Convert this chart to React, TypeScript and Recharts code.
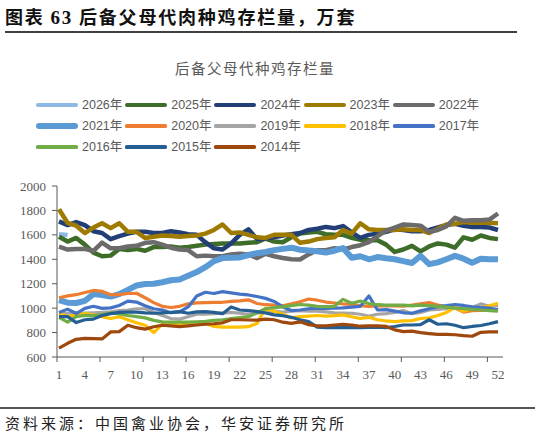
import { LineChart, Line, XAxis, YAxis } from "recharts";

// weeks of the year (category axis)
const weeks = [
  1, 2, 3, 4, 5, 6, 7, 8, 9, 10, 11, 12, 13, 14, 15, 16, 17, 18, 19, 20, 21, 22, 23, 24, 25, 26,
  27, 28, 29, 30, 31, 32, 33, 34, 35, 36, 37, 38, 39, 40, 41, 42, 43, 44, 45, 46, 47, 48, 49, 50, 51, 52,
];
const yTicks = [600, 800, 1000, 1200, 1400, 1600, 1800, 2000];

// 后备父母代种鸡存栏量, 万套
const y2026 = [1605, 1598];
const y2025 = [
  1585, 1545, 1575, 1520, 1455, 1425, 1430, 1485, 1475, 1485, 1470, 1500, 1500, 1505, 1495, 1500, 1510, 1520,
  1525, 1530, 1530, 1530, 1535, 1540, 1570, 1545, 1540, 1580, 1610, 1620, 1625, 1605, 1600, 1600, 1575, 1560,
  1555, 1555, 1520, 1460, 1480, 1510, 1465, 1505, 1530, 1520, 1495, 1580, 1560, 1595, 1575, 1565,
];
const y2024 = [
  1710, 1680, 1705, 1680, 1630, 1615, 1565, 1590, 1610, 1625, 1625, 1615, 1615, 1630, 1620, 1605, 1600, 1540,
  1490, 1480, 1530, 1600, 1645, 1565, 1570, 1580, 1595, 1605, 1615, 1640, 1650, 1665, 1655, 1672, 1620, 1575,
  1600, 1610, 1625, 1645, 1640, 1630, 1630, 1640, 1660, 1680, 1690, 1675, 1665, 1665, 1660, 1640,
];
const y2023 = [
  1810, 1697, 1675, 1615, 1660, 1695, 1655, 1695, 1625, 1625, 1575, 1585, 1595, 1590, 1585, 1590, 1595, 1610,
  1640, 1685, 1615, 1620, 1600, 1580, 1575, 1600, 1600, 1600, 1535, 1545, 1565, 1575, 1580, 1640, 1610, 1695,
  1645, 1640, 1640, 1640, 1645, 1640, 1640, 1615, 1650, 1685, 1690, 1705, 1700, 1700, 1700, 1695,
];
const y2022 = [
  1503, 1480, 1485, 1485, 1468, 1536, 1490, 1490, 1505, 1510, 1535, 1540, 1520, 1495, 1480, 1475, 1425, 1430,
  1425, 1425, 1440, 1445, 1440, 1410, 1445, 1425, 1410, 1400, 1398, 1440, 1475, 1475, 1490, 1480, 1500, 1515,
  1540, 1590, 1635, 1660, 1685, 1680, 1675, 1625, 1640, 1670, 1740, 1715, 1720, 1720, 1725, 1775,
];
const y2021 = [
  1066, 1045, 1042, 1060, 1115, 1108, 1095, 1115, 1150, 1185, 1198, 1200, 1212, 1228, 1235, 1265, 1295, 1335,
  1385, 1410, 1412, 1415, 1435, 1450, 1460, 1475, 1485, 1495, 1478, 1472, 1465, 1455, 1470, 1492, 1412, 1425,
  1400, 1418, 1408, 1400, 1385, 1370, 1428, 1360, 1375, 1400, 1428, 1405, 1372, 1405, 1400, 1400,
];
const y2020 = [
  1085, 1100, 1110, 1128, 1145, 1138, 1110, 1110, 1120, 1122, 1085, 1045, 1015, 1005, 1015, 1035, 1043, 1045,
  1048, 1048, 1055, 1060, 1068, 1038, 1028, 1025, 1020, 1035, 1052, 1075, 1065, 1050, 1042, 1035, 1030, 1020,
  1015, 1018, 1018, 1018, 1017, 1025, 1035, 1045, 1025, 1010, 1000, 968, 980, 982, 985, 990,
];
const y2019 = [
  960, 958, 962, 960, 962, 965, 970, 980, 985, 995, 995, 965, 940, 915, 910, 930, 950, 950, 955, 960, 965, 958,
  950, 958, 970, 975, 968, 975, 980, 975, 975, 970, 962, 960, 958, 950, 935, 950, 955, 965, 980, 955, 965, 985,
  990, 995, 1000, 1002, 1005, 1035, 1015, 1020,
];
const y2018 = [
  955, 932, 945, 955, 945, 930, 915, 930, 905, 880, 860, 800, 870, 880, 870, 872, 880, 875, 850, 845, 845, 845,
  848, 875, 1000, 975, 950, 920, 930, 935, 940, 935, 938, 945, 930, 915, 925, 905, 895, 890, 895, 898, 915, 920,
  940, 965, 1005, 975, 998, 1000, 1020, 1040,
];
const y2017 = [
  965, 992, 956, 998, 1015, 998, 1002, 1022, 1058, 1050, 1020, 995, 985, 962, 970, 1010, 1100, 1130, 1120, 1135,
  1125, 1115, 1108, 1095, 1080, 1055, 1010, 980, 985, 995, 1000, 998, 1000, 1002, 1008, 1015, 1100, 985, 988,
  975, 962, 958, 978, 995, 1012, 1020, 1030, 1022, 1010, 1005, 1000, 985,
];
const y2016 = [
  925, 885, 930, 940, 938, 948, 960, 952, 940, 930, 920, 900, 888, 885, 885, 885, 888, 892, 900, 905, 915, 922,
  930, 962, 995, 1005, 1010, 1020, 1030, 1025, 1015, 1012, 1015, 1072, 1040, 1058, 1038, 1028, 1025, 1025, 1025,
  1018, 1025, 1020, 1015, 1008, 1000, 995, 990, 985, 980, 975,
];
const y2015 = [
  930, 930, 882, 905, 910, 940, 955, 965, 968, 968, 962, 958, 962, 965, 972, 958, 970, 972, 965, 955, 1010, 985,
  980, 972, 960, 945, 938, 925, 905, 890, 845, 840, 842, 840, 842, 840, 842, 845, 840, 850, 862, 862, 865, 905,
  868, 872, 860, 840, 850, 858, 872, 890,
];
const y2014 = [
  672, 712, 745, 752, 750, 748, 805, 808, 860, 840, 828, 848, 860, 855, 848, 855, 862, 868, 872, 880, 905, 905,
  903, 902, 910, 905, 885, 875, 888, 865, 855, 855, 862, 868, 862, 852, 855, 855, 850, 822, 808, 812, 800, 792,
  785, 785, 782, 775, 770, 802, 805, 805,
];

const seriesNames = [
  "2026年", "2025年", "2024年", "2023年", "2022年", "2021年", "2020年",
  "2019年", "2018年", "2017年", "2016年", "2015年", "2014年",
];
const seriesValues = [
  y2026, y2025, y2024, y2023, y2022, y2021, y2020, y2019, y2018, y2017, y2016, y2015, y2014,
];

// look of each series
const seriesStyle: Record<string, { color: string; width: number }> = {
  "2026年": { color: "#8DB9E4", width: 4.5 },
  "2025年": { color: "#3E6D29", width: 4.5 },
  "2024年": { color: "#213F76", width: 4.5 },
  "2023年": { color: "#9E7A00", width: 4.5 },
  "2022年": { color: "#6B6B6B", width: 4.5 },
  "2021年": { color: "#5B9BD5", width: 6 },
  "2020年": { color: "#ED7D31", width: 3.2 },
  "2019年": { color: "#A5A5A5", width: 3.2 },
  "2018年": { color: "#FFC000", width: 3.2 },
  "2017年": { color: "#4472C4", width: 3.2 },
  "2016年": { color: "#70AD47", width: 3.2 },
  "2015年": { color: "#255E91", width: 3.2 },
  "2014年": { color: "#9E480E", width: 3.2 },
};

const rows = weeks.map((week, i) => {
  const row: Record<string, number | undefined> = { week };
  seriesNames.forEach((name, s) => {
    row[name] = seriesValues[s][i];
  });
  return row;
});

const AXIS = "#595959";
const CHART_TOP = 170;
const PLOT_TOP = 16;
const PLOT_H = 171;
const PLOT_BOTTOM = PLOT_TOP + PLOT_H;

function WeekTick(props: any) {
  const { x, payload } = props;
  const w = Number(payload.value);
  return (
    <g>
      {(w - 1) % 5 === 0 && (
        <line x1={x - 2} x2={x - 2} y1={PLOT_BOTTOM} y2={PLOT_BOTTOM + 5} stroke={AXIS} strokeWidth={1} />
      )}
      {(w - 1) % 3 === 0 && (
        <text
          x={x}
          y={PLOT_BOTTOM + 22}
          textAnchor="middle"
          fontSize={13}
          fill={AXIS}
          fontFamily="'Liberation Serif', serif"
        >
          {w}
        </text>
      )}
    </g>
  );
}

function ChartLegend() {
  return (
    <>
      {seriesNames.map((name, i) => {
        const st = seriesStyle[name];
        const left = 36 + (i % 5) * 89.2;
        const cy = 105 + Math.floor(i / 5) * 21;
        return (
          <div key={name}>
            <div
              style={{
                position: "absolute",
                left,
                top: cy - st.width / 2,
                width: 42,
                height: st.width,
                borderRadius: st.width / 2,
                background: st.color,
              }}
            />
            <div
              style={{
                position: "absolute",
                left: left + 46,
                top: cy - 8,
                height: 16,
                lineHeight: "16px",
                fontSize: 12.5,
                color: AXIS,
                fontFamily: "'Liberation Sans', 'Noto Sans CJK SC', sans-serif",
                whiteSpace: "nowrap",
              }}
            >
              {name}
            </div>
          </div>
        );
      })}
    </>
  );
}

export default function App() {
  return (
    <div
      style={{
        position: "absolute",
        left: 0,
        top: 0,
        width: 541,
        height: 437,
        background: "#fff",
        overflow: "hidden",
        fontFamily: "'Noto Sans CJK SC', sans-serif",
      }}
    >
      <div
        style={{
          position: "absolute",
          left: 5,
          top: 5,
          fontSize: 18,
          lineHeight: "22px",
          fontWeight: 700,
          letterSpacing: 1.8,
          color: "#111",
          whiteSpace: "pre",
        }}
      >
        图表 <span style={{ fontFamily: "'Liberation Serif', serif", fontSize: 19 }}>63</span> 后备父母代肉种鸡存栏量，万套
      </div>
      <div style={{ position: "absolute", left: 5, top: 31, width: 512, height: 1.5, background: "#404040" }} />

      <div
        style={{
          position: "absolute",
          left: 0,
          top: 59,
          width: 510,
          textAlign: "center",
          fontSize: 14.5,
          lineHeight: "18px",
          letterSpacing: 1.5,
          color: AXIS,
        }}
      >
        后备父母代种鸡存栏量
      </div>

      <ChartLegend />

      <div style={{ position: "absolute", left: 0, top: CHART_TOP }}>
        <LineChart width={541} height={220} data={rows} margin={{ top: PLOT_TOP, right: 38, left: 0, bottom: 0 }}>
          <XAxis
            dataKey="week"
            interval={0}
            tickLine={false}
            axisLine={{ stroke: AXIS }}
            padding={{ left: 2, right: 5 }}
            height={220 - PLOT_BOTTOM}
            tick={(p: any) => <WeekTick {...p} />}
          />
          <YAxis
            domain={[600, 2000]}
            ticks={yTicks}
            interval={0}
            width={57}
            tickSize={5}
            tickMargin={6}
            axisLine={{ stroke: AXIS }}
            tickLine={{ stroke: AXIS }}
            tick={{ fontSize: 13, fill: AXIS, fontFamily: "'Liberation Serif', serif" }}
          />
          {seriesNames.map((name) => (
            <Line
              key={name}
              type="linear"
              dataKey={name}
              stroke={seriesStyle[name].color}
              strokeWidth={seriesStyle[name].width}
              strokeLinejoin="round"
              dot={false}
              activeDot={false}
              isAnimationActive={false}
            />
          ))}
        </LineChart>
      </div>

      <div style={{ position: "absolute", left: 0, top: 407, width: 535, height: 1.5, background: "#555" }} />
      <div
        style={{
          position: "absolute",
          left: 5,
          top: 414,
          fontSize: 15,
          lineHeight: "18px",
          letterSpacing: 3,
          color: "#222",
          whiteSpace: "nowrap",
        }}
      >
        资料来源：中国禽业协会，华安证券研究所
      </div>
    </div>
  );
}
